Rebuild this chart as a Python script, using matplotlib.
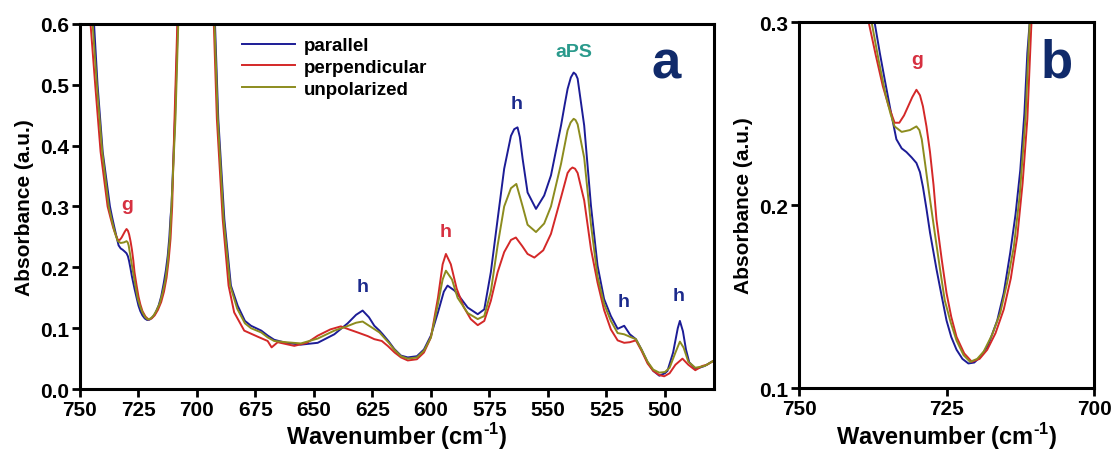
import matplotlib
matplotlib.use("Agg")
import matplotlib.pyplot as plt

plt.rcParams['font.family'] = ['Liberation Sans', 'DejaVu Sans']
plt.rcParams['font.weight'] = 'bold'
plt.rcParams['mathtext.fontset'] = 'custom'
plt.rcParams['mathtext.rm'] = 'Liberation Sans:bold'
plt.rcParams['mathtext.bf'] = 'Liberation Sans:bold'

# wavenumber (cm-1) / absorbance
wn_par = [748, 744.0, 742.5, 740.3, 737.2, 736.3, 735.5, 734.5, 733.5, 732.6, 731.8, 730.9,
          730.1, 729.5, 729.0, 728.4, 727.8, 726.7, 725.8, 725.0, 724.2, 723.3, 722.3, 721.3,
          720.3, 719.3, 718.0, 716.4, 715.3, 714.2, 713.3, 712.5, 711.8, 711.3, 710.9, 709.4,
          708.2, 705, 695,
          692.3, 690.9, 688.3, 685.5, 682.6, 679.5, 676.9, 672.5, 669.8, 667.0, 662, 655.6,
          648.4, 641.3, 635.6, 632, 629.2, 626.5, 624.2, 622, 620.6, 618, 615.7, 612.8,
          609.9, 606, 603, 600, 597, 594.5, 592.9, 590, 588.6, 584.3, 580.0, 577.2, 574.4,
          571.5, 568.7, 565.8, 564.4, 563.0, 562.0, 560.8, 558.7, 555.1, 551.6, 548.7, 544.4,
          542.8, 541.6, 540.2, 539.0, 538.1, 537.3, 534.5, 531.6, 528.8, 526.0, 523.1, 520.2,
          517.4, 515, 512.4, 510, 507.4, 505, 502.4, 500, 498.9, 496.5, 494.5, 493.6, 492.3,
          491, 489.6, 486.8, 483, 479.0]
ab_par = [0.75, 0.60, 0.50, 0.39, 0.30, 0.283, 0.269, 0.252, 0.236, 0.231, 0.229, 0.226,
          0.223, 0.218, 0.210, 0.198, 0.185, 0.165, 0.150, 0.137, 0.128, 0.121, 0.116, 0.1135,
          0.114, 0.117, 0.123, 0.137, 0.152, 0.174, 0.195, 0.219, 0.250, 0.283, 0.30, 0.444,
          0.60, 0.75, 0.75,
          0.60, 0.444, 0.279, 0.170, 0.137, 0.112, 0.104, 0.096, 0.088, 0.081, 0.076, 0.073,
          0.076, 0.090, 0.108, 0.122, 0.129, 0.118, 0.104, 0.096, 0.090, 0.078, 0.066, 0.055,
          0.052, 0.054, 0.065, 0.088, 0.126, 0.160, 0.170, 0.162, 0.156, 0.134, 0.123, 0.131,
          0.192, 0.279, 0.362, 0.416, 0.427, 0.430, 0.414, 0.378, 0.323, 0.296, 0.318, 0.351,
          0.433, 0.468, 0.493, 0.512, 0.520, 0.517, 0.510, 0.433, 0.301, 0.203, 0.148, 0.120,
          0.099, 0.104, 0.090, 0.082, 0.065, 0.044, 0.030, 0.022, 0.026, 0.030, 0.060, 0.100,
          0.112, 0.095, 0.065, 0.044, 0.033, 0.038, 0.047]

wn_per = [748, 745.5, 743.5, 741.2, 738.2, 737.0, 735.8, 734.8, 733.8, 733.0, 732.2, 731.5,
          730.8, 730.1, 729.5, 729.0, 728.4, 727.8, 727.2, 726.7, 725.8, 725.0, 724.2, 723.3,
          722.0, 720.7, 719.4, 718.1, 716.7, 715.3, 714.1, 713.0, 712.1, 711.3, 710.6, 709.6,
          708.4, 705, 695,
          692.8, 691.5, 689.0, 686.5, 684.1, 679.8, 674, 669.8, 668.1, 665.5, 662,
          658.4, 653, 648.4, 643, 638.5, 635, 631.3, 627, 624.2, 621, 618.5, 615.5, 612.8,
          609.9, 606, 603, 600, 597, 595, 593.6, 591.5, 589, 586, 583, 580, 577.2, 574.4,
          571.5, 568.7, 565.8, 563.7, 561, 558.7, 555.8, 552, 548.7, 544.4, 541.6, 540.5,
          539.5, 538.4, 537.3, 534.5, 531.6, 528.8, 526, 523.1, 520.2, 517.4, 515, 512.4, 510,
          507.4, 505, 502.4, 500.3, 498, 495.5, 492.5, 490, 487, 484, 482, 479]
ab_per = [0.75, 0.60, 0.50, 0.39, 0.30, 0.282, 0.265, 0.254, 0.245, 0.245, 0.249, 0.254,
          0.259, 0.263, 0.260, 0.254, 0.243, 0.229, 0.211, 0.192, 0.170, 0.152, 0.139, 0.128,
          0.119, 0.1144, 0.116, 0.121, 0.130, 0.143, 0.160, 0.183, 0.212, 0.247, 0.30, 0.444,
          0.60, 0.75, 0.75,
          0.60, 0.444, 0.279, 0.170, 0.126, 0.096, 0.086, 0.079, 0.0685, 0.077, 0.074,
          0.071, 0.076, 0.0877, 0.098, 0.103, 0.098, 0.093, 0.087, 0.082, 0.079, 0.071, 0.060,
          0.052, 0.047, 0.049, 0.060, 0.085, 0.150, 0.205, 0.222, 0.205, 0.165, 0.135, 0.115,
          0.105, 0.112, 0.145, 0.192, 0.225, 0.245, 0.249, 0.235, 0.222, 0.216, 0.228, 0.255,
          0.315, 0.355, 0.361, 0.364, 0.362, 0.355, 0.310, 0.230, 0.175, 0.130, 0.098, 0.080,
          0.076, 0.077, 0.080, 0.063, 0.042, 0.030, 0.023, 0.021, 0.026, 0.040, 0.050, 0.040,
          0.031, 0.038, 0.040, 0.047]

wn_unp = [748, 744.6, 742.8, 740.5, 737.7, 736.5, 735.3, 734.5, 733.8, 732.6, 731.2, 730.1,
          729.6, 729.2, 728.6, 728.1, 727.0, 726.1, 725.3, 724.3, 723.3, 722.1, 721.0, 719.8,
          718.7, 717.3, 715.9, 714.7, 713.6, 712.6, 711.6, 710.9, 709.2, 708.0, 705, 695,
          692.5, 691.1, 688.6, 685.8, 682.8, 679.5, 676.9, 672.5, 669.8, 667.0, 662,
          655.6, 648.4, 641.3, 636, 632, 629.2, 626, 622, 618, 615.7, 612.8, 609.9, 606, 603,
          600, 597, 595, 593.6, 591, 588.6, 584.3, 580, 577.2, 574.4, 571.5, 568.7, 565.8,
          563.5, 560.8, 558.7, 555.1, 551.6, 548.7, 544.4, 541.6, 540.3, 539.0, 538.2, 537.3,
          534.5, 531.6, 528.8, 526, 523.1, 520.2, 517.4, 515, 512.4, 510, 507.4, 505, 502.4,
          500, 498, 495.5, 493.6, 492, 490, 487, 483, 479]
ab_unp = [0.75, 0.60, 0.50, 0.39, 0.30, 0.279, 0.260, 0.250, 0.243, 0.240, 0.241, 0.243,
          0.241, 0.236, 0.222, 0.210, 0.185, 0.165, 0.148, 0.136, 0.126, 0.118, 0.1144, 0.116,
          0.120, 0.129, 0.141, 0.158, 0.177, 0.205, 0.248, 0.30, 0.444, 0.60, 0.75, 0.75,
          0.60, 0.444, 0.279, 0.170, 0.132, 0.108, 0.100, 0.093, 0.085, 0.079, 0.077,
          0.075, 0.083, 0.096, 0.103, 0.109, 0.111, 0.103, 0.093, 0.076, 0.065, 0.054, 0.050,
          0.052, 0.063, 0.085, 0.140, 0.180, 0.1945, 0.180, 0.150, 0.125, 0.115, 0.120, 0.160,
          0.236, 0.300, 0.330, 0.337, 0.300, 0.270, 0.258, 0.272, 0.300, 0.370, 0.425, 0.438,
          0.444, 0.442, 0.435, 0.380, 0.270, 0.185, 0.140, 0.112, 0.092, 0.090, 0.086, 0.082,
          0.065, 0.045, 0.032, 0.027, 0.028, 0.035, 0.060, 0.078, 0.068, 0.045, 0.035, 0.038,
          0.047]

labels = ['parallel', 'perpendicular', 'unpolarized']
colors = ['#1c1c96', '#d42828', '#8c8c1e']

# peak labels: (text, wavenumber, absorbance, color)
peaks_a = [('g', 730, 0.29, '#d63040'), ('h', 629, 0.155, '#1c2a8c'),
           ('h', 593.6, 0.245, '#d63040'), ('h', 563.5, 0.455, '#1c2a8c'),
           ('aPS', 539, 0.54, '#2a9a8c'), ('h', 517.5, 0.13, '#1c2a8c'),
           ('h', 494, 0.14, '#1c2a8c')]
peaks_b = [('g', 729.9, 0.275, '#d63040')]

fig = plt.figure(figsize=(11.11, 4.52), dpi=100)
ax1 = fig.add_axes([0.072, 0.137, 0.5707, 0.808])
ax2 = fig.add_axes([0.7192, 0.139, 0.2655, 0.810])

series = [(wn_par, ab_par), (wn_per, ab_per), (wn_unp, ab_unp)]
for ax in (ax1, ax2):
    for (x, y), c, lab in zip(series, colors, labels):
        ax.plot(x, y, color=c, lw=1.4, label=lab)
    for s in ax.spines.values():
        s.set_linewidth(2.2)
    ax.tick_params(width=2, length=6, labelsize=15, direction='out', pad=2)
    ax.set_xlabel(r'Wavenumber (cm$^{\text{-1}}$)', fontsize=17, fontweight='bold', labelpad=1)
    ax.set_ylabel('Absorbance (a.u.)', fontsize=15, fontweight='bold', labelpad=4)

ax1.set_xlim(750, 479)
ax1.set_ylim(0, 0.6)
ax1.set_xticks([750, 725, 700, 675, 650, 625, 600, 575, 550, 525, 500])
ax1.set_yticks([0.0, 0.1, 0.2, 0.3, 0.4, 0.5, 0.6])
ax1.set_yticklabels(['0.0', '0.1', '0.2', '0.3', '0.4', '0.5', '0.6'])

ax2.set_xlim(750, 700)
ax2.set_ylim(0.1, 0.3)
ax2.set_xticks([750, 725, 700])
ax2.set_yticks([0.1, 0.2, 0.3])
ax2.set_yticklabels(['0.1', '0.2', '0.3'])

for ax in (ax1, ax2):
    for t in ax.get_xticklabels() + ax.get_yticklabels():
        t.set_fontweight('bold')

for ax, peaks in ((ax1, peaks_a), (ax2, peaks_b)):
    for txt, x, y, c in peaks:
        ax.text(x, y, txt, color=c, fontsize=14, fontweight='bold', ha='center', va='bottom')

ax1.text(499.5, 0.535, 'a', color='#102a6a', fontsize=38, fontweight='bold', ha='center', va='center')
ax2.text(706.4, 0.278, 'b', color='#102a6a', fontsize=38, fontweight='bold', ha='center', va='center')

leg = ax1.legend(loc='upper left', bbox_to_anchor=(0.235, 1.0), frameon=False, fontsize=13.5,
                 handlelength=2.8, handletextpad=0.5, labelspacing=0.25, borderaxespad=0.3)
for t in leg.get_texts():
    t.set_fontweight('bold')

fig.savefig('out.png', dpi=100)
